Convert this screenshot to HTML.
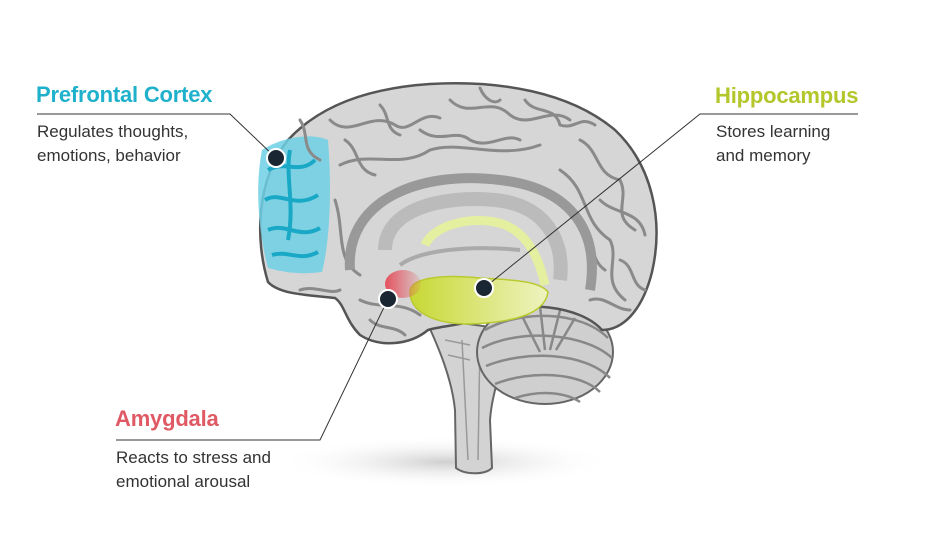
<!DOCTYPE html>
<html><head><meta charset="utf-8"><style>
html,body{margin:0;padding:0;background:#fff;}
body{width:928px;height:554px;position:relative;overflow:hidden;font-family:"Liberation Sans",sans-serif;}
.t{position:absolute;font-weight:bold;font-size:22px;letter-spacing:-0.2px;}
.d{position:absolute;font-size:17px;color:#333;line-height:24px;}
</style></head><body>
<svg width="928" height="554" style="position:absolute;left:0;top:0">
<defs>
<radialGradient id="sh" cx="50%" cy="50%" r="50%"><stop offset="0" stop-color="#cfcfcf"/><stop offset="1" stop-color="#fff" stop-opacity="0"/></radialGradient>
<linearGradient id="am" x1="0" x2="1"><stop offset="0" stop-color="#e4525e"/><stop offset="1" stop-color="#e4525e" stop-opacity="0.1"/></linearGradient>
<linearGradient id="hp" x1="0" x2="1"><stop offset="0" stop-color="#c7d834"/><stop offset="1" stop-color="#eef3c0"/></linearGradient>
</defs>
<ellipse cx="445" cy="462" rx="170" ry="26" fill="url(#sh)"/>
<path d="M425,318 C440,350 452,380 455,410 L456,468 C465,475 485,475 492,468 L490,420 C492,390 505,360 512,330 Z" fill="#d3d3d3" stroke="#666" stroke-width="2"/>
<path d="M462,340 L468,460 M480,340 L478,460 M445,340 L470,345 M448,355 L470,360" stroke="#999" stroke-width="1.5" fill="none"/>
<ellipse cx="545" cy="352" rx="68" ry="52" fill="#cfcfcf" stroke="#666" stroke-width="2"/>
<g stroke="#888" stroke-width="2.5" fill="none">
<path d="M485,330 C520,310 580,310 608,338"/><path d="M482,348 C520,328 585,333 612,358"/><path d="M486,366 C525,350 585,352 610,378"/><path d="M495,384 C530,370 580,372 600,392"/><path d="M515,398 C540,390 565,392 580,402"/>
<path d="M540,306 L545,350 M560,310 L550,350 M522,316 L540,352 M575,318 L556,350"/>
</g>
<path d="M268,282 C255,240 256,180 288,140 C320,105 370,88 430,84 C500,80 570,92 615,130 C652,165 664,220 652,272 C642,312 622,330 602,330 C580,305 520,300 490,315 C470,325 445,325 428,330 C410,345 380,348 360,335 C345,320 345,305 335,298 C310,295 280,295 268,282 Z" fill="#d6d6d6" stroke="#555" stroke-width="2.5"/>
<path d="M262,150 C280,138 310,132 328,140 C332,190 330,240 322,272 C300,275 282,272 268,268 C258,230 255,185 262,150 Z" fill="#6fd0e4" opacity="0.85"/>
<g stroke="#19a9c6" stroke-width="4" fill="none">
<path d="M268,170 C285,160 300,175 315,160"/><path d="M265,200 C280,190 295,210 318,195"/><path d="M268,230 C285,222 300,240 320,228"/><path d="M272,255 C288,250 300,262 318,252"/><path d="M290,150 C285,175 295,205 288,240"/>
</g>
<g stroke="#8a8a8a" stroke-width="3" fill="none" stroke-linecap="round">
<path d="M330,120 C350,140 370,110 395,125 C410,135 420,110 440,118"/>
<path d="M450,100 C470,120 490,95 510,115 C530,130 550,105 570,120"/>
<path d="M580,140 C600,150 595,175 620,180 C630,200 610,215 635,230"/>
<path d="M340,165 C370,150 400,170 430,150 C460,140 500,160 540,145"/>
<path d="M560,170 C590,190 580,220 610,240 C620,260 600,280 625,300"/>
<path d="M335,200 C345,230 335,260 360,275"/>
<path d="M300,120 C310,135 300,150 320,160"/>
<path d="M380,105 C390,115 385,130 400,135"/><path d="M480,88 C485,100 495,105 500,100"/>
<path d="M360,300 C380,310 400,300 420,315"/>
<path d="M525,100 C535,115 555,105 560,125 C575,130 580,115 595,125"/>
<path d="M420,130 C440,145 455,128 470,140 C490,150 505,132 520,140"/>
<path d="M345,140 C360,150 355,170 375,175"/>
<path d="M600,200 C615,215 640,210 645,235"/><path d="M620,260 C635,265 630,285 645,290"/>
<path d="M590,300 C605,295 615,310 630,310"/>
<path d="M580,230 C595,240 590,260 605,270"/>
<path d="M300,290 C315,285 330,295 340,290"/>
<path d="M370,320 C380,330 395,325 405,335"/>
</g>
<path d="M350,270 C345,200 420,170 500,180 C570,188 600,230 590,290" fill="none" stroke="#999" stroke-width="10"/>
<path d="M385,250 C385,210 440,195 495,200 C545,205 565,240 560,280" fill="none" stroke="#bbb" stroke-width="14"/>
<path d="M400,265 C420,250 470,245 520,250" fill="none" stroke="#aaa" stroke-width="4"/>
<path d="M425,245 C435,222 480,215 505,225 C530,235 540,262 545,285" fill="none" stroke="#e5efa0" stroke-width="9"/>
<path d="M410,292 C410,278 440,274 480,278 C520,280 540,282 548,292 C545,312 520,322 470,324 C430,324 410,310 410,292 Z" fill="url(#hp)" stroke="#b9ca30" stroke-width="1.5"/>
<ellipse cx="403" cy="284" rx="18" ry="14" fill="url(#am)"/>
<g stroke="#333" stroke-width="1" fill="none">
<polyline points="37,114 230,114 276,158"/>
<polyline points="858,114 700,114 484,288"/>
<polyline points="116,440 320,440 388,299"/>
</g>
<g fill="#1b2633" stroke="#fff" stroke-width="2">
<circle cx="276" cy="158" r="9"/><circle cx="484" cy="288" r="9"/><circle cx="388" cy="299" r="9"/>
</g>
</svg>
<div class="t" style="left:36px;top:82px;color:#1fb1cc">Prefrontal Cortex</div>
<div class="d" style="left:37px;top:120px">Regulates thoughts,<br>emotions, behavior</div>
<div class="t" style="left:715px;top:83px;color:#b3c62a">Hippocampus</div>
<div class="d" style="left:716px;top:120px">Stores learning<br>and memory</div>
<div class="t" style="left:115px;top:406px;color:#e05a66">Amygdala</div>
<div class="d" style="left:116px;top:446px">Reacts to stress and<br>emotional arousal</div>
</body></html>
